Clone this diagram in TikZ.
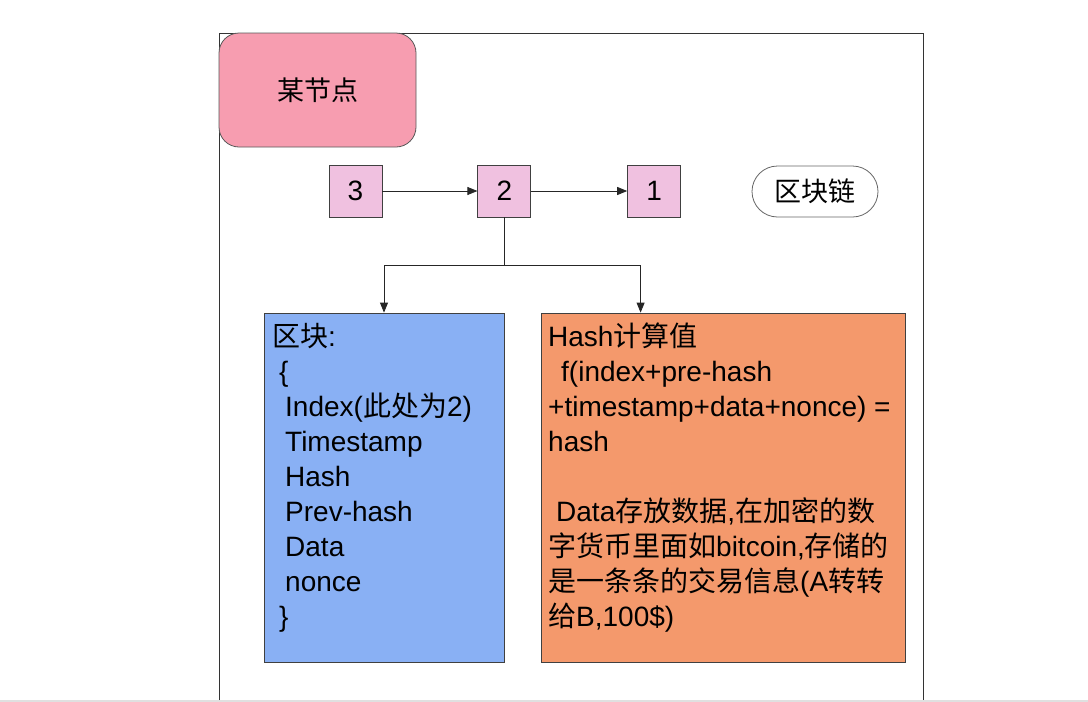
\documentclass[tikz,border=0pt]{standalone}
\usepackage{fontspec}
\setmainfont{Liberation Sans}
\newfontfamily\cjk{Noto Sans CJK SC}
\usetikzlibrary{arrows.meta,positioning,shapes.misc,calc}
\newcommand{\zh}[1]{{\cjk #1}}
\definecolor{peerpink}{RGB}{247,157,176}
\definecolor{chainpink}{RGB}{240,193,224}
\definecolor{blockblue}{RGB}{137,176,244}
\definecolor{hashorange}{RGB}{244,153,108}

\begin{document}
\begin{tikzpicture}[x=1pt, y=-1pt,
		box/.style={draw=black!75, line width=0.8pt, inner sep=0pt},
		numbox/.style={box, fill=chainpink, minimum width=53pt, minimum height=52pt, font=\fontsize{28}{30}\selectfont},
		field/.style={anchor=base west, inner sep=0pt, align=left, font=\fontsize{28}{35}\selectfont},
		arr/.style={-{Triangle[length=10pt,width=8pt]}, line width=0.8pt, black!85}
	]
		\useasboundingbox (0,0) rectangle (1088,702);
		\draw[line width=2pt, black!12] (0,701) -- (1088,701);
		\draw[line width=0.8pt, black!80] (219,700) -- (219,33) -- (923,33) -- (923,700);

		\node[box, draw=black!65, fill=peerpink, rounded corners=20pt, minimum width=197pt, minimum height=114pt, font=\fontsize{27}{30}\selectfont] (peer) at (317.5,90) {\zh{某节点}};

		\node[numbox] (n3) at (355.5,191) {3};
		\node[numbox, right=95pt of n3] (n2) {2};
		\node[numbox, right=96pt of n2] (n1) {1};
		\node[box, draw=black!60, rounded rectangle, fill=white, minimum width=126pt, minimum height=51pt, font=\fontsize{27}{30}\selectfont] (chain) at (815,191.5) {\zh{区块链}};

		\draw[arr] (n3) -- (n2);
		\draw[arr] (n2) -- (n1);

		\node[box, fill=blockblue, minimum width=240pt, minimum height=349pt] (blk) at (384,487.5) {};
		\node[box, fill=hashorange, minimum width=364pt, minimum height=349pt] (hsh) at (723,487.5) {};

		\draw[line width=0.8pt, black!85] (n2.south) -- ++(0,48) coordinate (fork);
		\draw[arr] (fork) -| (blk.north);
		\draw[arr] (fork) -| ($(hsh.north west)+(100,0)$);

		% base anchor sits on the last line
		\node[field] (blktxt) at (272,626) {\zh{区块}:\\
			\hspace*{7pt}\{\\
			\hspace*{13pt}Index(\zh{此处为}2)\\
			\hspace*{13pt}Timestamp\\
			\hspace*{13pt}Hash\\
			\hspace*{13pt}Prev-hash\\
			\hspace*{13pt}Data\\
			\hspace*{13pt}nonce\\
			\hspace*{7pt}\}};
		\node[field] (hshtxt) at (548,626) {Hash\zh{计算值}\\
			\hspace*{13pt}f(index+pre-hash\\
			+timestamp+data+nonce) =\\
			hash\\[35pt]
			\hspace*{8pt}Data\zh{存放数据},\zh{在加密的数}\\
			\zh{字货币里面如}bitcoin,\zh{存储的}\\
			\zh{是一条条的交易信息}(A\zh{转转}\\
			\zh{给}B,100\$)};
	\end{tikzpicture}
\end{document}
